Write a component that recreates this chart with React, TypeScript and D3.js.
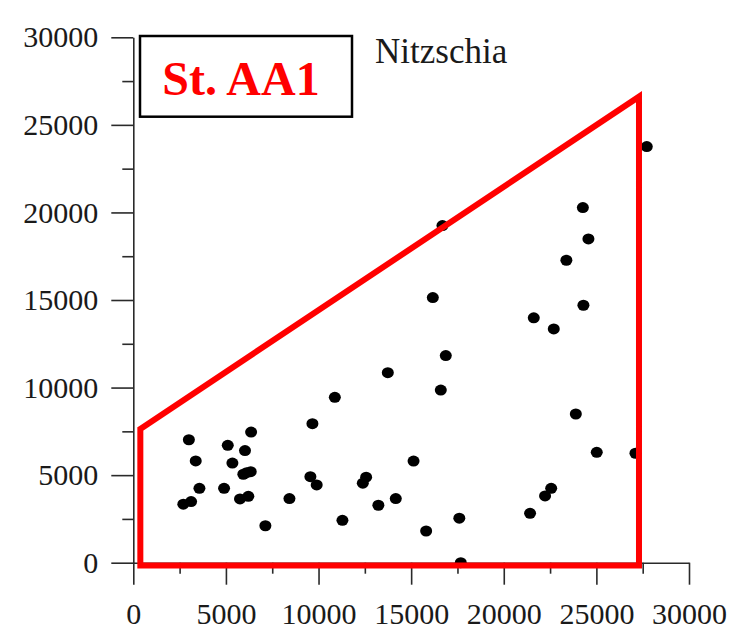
import React, { useEffect, useRef } from "react";
import * as d3 from "d3";

const xValues = [3000, 3370, 3570, 2700, 3120, 4900, 5100, 5350, 6030, 6360, 5940, 6120, 6340, 5760, 6210, 7130, 8430, 9670, 9560, 9900, 10880, 11290, 12390, 12570, 13230, 14170, 13740, 15130, 15810, 16170, 16690, 16870, 16600, 17600, 17680, 21420, 22230, 22560, 21620, 22700, 23380, 24270, 24570, 24300, 23890, 25020, 27110, 27720];
const yValues = [7020, 5810, 4250, 3340, 3490, 4250, 6700, 5690, 6400, 7460, 5050, 5140, 5200, 3640, 3790, 2110, 3660, 7940, 4910, 4440, 9440, 2420, 4540, 4880, 3280, 3660, 10850, 5800, 1810, 15140, 19250, 11830, 9860, 2540, 0, 2820, 3810, 4250, 13980, 13350, 17270, 20280, 18490, 14700, 8490, 6300, 6250, 23760];

const envelopeX = [380, 27300, 27300, 380];
const envelopeY = [7640, 26610, -160, -160];

const majorTicks = [0, 5000, 10000, 15000, 20000, 25000, 30000];
const minorTicks = [2500, 7500, 12500, 17500, 22500, 27500];

const stationLabel = "St. AA1";
const speciesLabel = "Nitzschia";

const W = 733;
const H = 632;
const FONT = "'Liberation Serif', 'Times New Roman', serif";

export default function App() {
  const ref = useRef<SVGGElement | null>(null);

  useEffect(() => {
    const svg = d3.select(ref.current);
    svg.selectAll("*").remove();

    const x = d3.scaleLinear().domain([0, 30000]).range([133.3, 689]);
    const y = d3.scaleLinear().domain([0, 30000]).range([562.7, 37.3]);

    const axisColor = "#2a2a2a";

    // y axis
    const gy = svg.append("g").attr("transform", `translate(${x(0)},0)`);
    gy.call(
      d3.axisLeft(y).tickValues(majorTicks).tickSize(22).tickSizeOuter(0).tickPadding(13).tickFormat((d: any) => String(d))
    );
    gy.append("g").call(d3.axisLeft(y).tickValues(minorTicks).tickSize(11).tickFormat(() => "")).select(".domain").remove();

    // x axis
    const gx = svg.append("g").attr("transform", `translate(0,${y(0)})`);
    gx.call(
      d3.axisBottom(x).tickValues(majorTicks).tickSize(22).tickSizeOuter(0).tickPadding(18).tickFormat((d: any) => String(d))
    );
    gx.append("g").call(d3.axisBottom(x).tickValues(minorTicks).tickSize(11).tickFormat(() => "")).select(".domain").remove();

    svg.selectAll(".domain").attr("stroke", axisColor).attr("stroke-width", 1.6);
    svg.selectAll(".tick line").attr("stroke", axisColor).attr("stroke-width", 1.6);
    svg.selectAll(".tick text")
      .attr("fill", "#1a1a1a")
      .style("font-family", FONT)
      .style("font-size", "30px");

    // points
    svg.append("g")
      .selectAll("ellipse")
      .data(xValues.map((v, i) => [v, yValues[i]]))
      .join("ellipse")
      .attr("cx", (d) => x(d[0]))
      .attr("cy", (d) => y(d[1]))
      .attr("rx", 6)
      .attr("ry", 5.5)
      .attr("fill", "#000");

    // envelope polygon
    const pts = envelopeX.map((v, i) => [x(v), y(envelopeY[i])] as [number, number]);
    svg.append("path")
      .attr("d", d3.line()(pts) + "Z")
      .attr("fill", "none")
      .attr("stroke", "#ff0000")
      .attr("stroke-width", 6)
      .attr("stroke-linejoin", "miter");
  }, []);

  return (
    <svg
      width={W}
      height={H}
      style={{ position: "absolute", left: 0, top: 0, background: "#fff" }}
    >
      <g ref={ref} />
      <rect x={140} y={36} width={212} height={80.7} fill="#fff" stroke="#000" strokeWidth={2.5} />
      <text x={241} y={95} textAnchor="middle" fill="#ff0000" fontFamily={FONT} fontWeight="bold" fontSize={48}>
        {stationLabel}
      </text>
      <text x={375} y={63} fill="#1a1a1a" fontFamily={FONT} fontSize={35}>
        {speciesLabel}
      </text>
    </svg>
  );
}
